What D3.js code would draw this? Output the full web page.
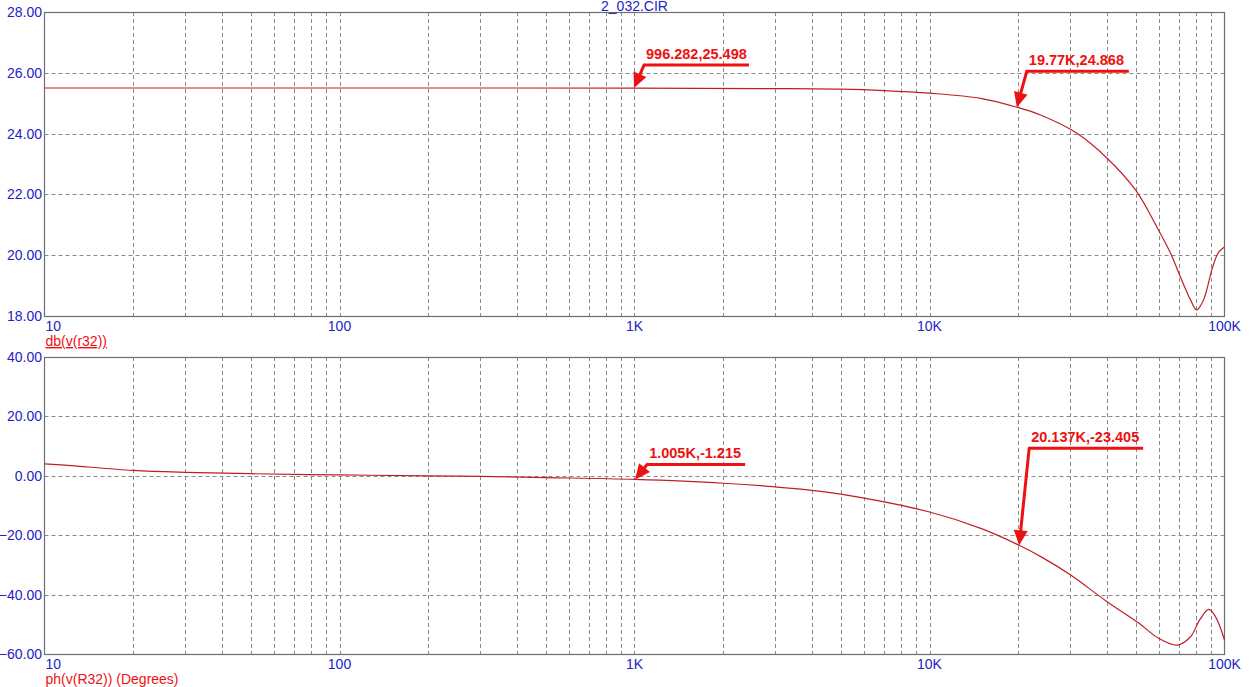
<!DOCTYPE html>
<html><head><meta charset="utf-8">
<script src="https://cdn.jsdelivr.net/npm/d3@7/dist/d3.min.js"></script>
<style>html,body{margin:0;padding:0;background:#fff;}svg{display:block;}</style>
</head><body>
<script>
// ---- data ----
const title = "2_032.CIR";
const freqs = [10,100,1000,3000,5000,7000,10000,14900,19770,23800,31700,40000,50000,58900,65600,70900,76700,80400,84900,91100,95500,100000];
const magDb = [25.5,25.5,25.498,25.48,25.46,25.415,25.33,25.16,24.868,24.61,24.0,23.19,22.14,20.94,20.07,19.28,18.53,18.2,18.53,19.6,20.1,20.27];
const phaseFreqs = [10,12,20,30,50,100,200,300,500,1005,2000,3660,5000,10000,15000,20137,24400,30100,40000,51200,60000,69200,76700,82300,88400,93300,100000];
const phaseDeg = [4.0,3.5,1.8,1.15,0.7,0.3,0.0,-0.2,-0.6,-1.215,-2.5,-4.5,-6.2,-12.2,-17.8,-23.405,-27.8,-33.4,-42.4,-49.6,-54.8,-57.0,-54.2,-48.6,-45.0,-47.5,-55.3];
const xTickValues = [10,100,1000,10000,100000];
const xTickLabels = ["10","100","1K","10K","100K"];
const magTicks = [18,20,22,24,26,28];
const phaseTicks = [-60,-40,-20,0,20,40];
const magLabel = "db(v(r32))";
const phaseLabel = "ph(v(R32)) (Degrees)";
const magMarkers = [{f:996.282, v:25.498, text:"996.282,25.498"},{f:19770, v:24.868, text:"19.77K,24.868"}];
const phaseMarkers = [{f:1005, v:-1.215, text:"1.005K,-1.215"},{f:20137, v:-23.405, text:"20.137K,-23.405"}];

// ---- layout / style ----
const W = 1251, H = 687;
const L = 44.5, R = 1224.5;
const blue = "#2323c8", red = "#ee1111", curveCol = "#c01e26", frameCol = "#6e6e6e", gridCol = "#8a8a8a";
const markerOffsets = [[{dx:10,dy:-23,len:105},{dx:10,dy:-36,len:102}],[{dx:12,dy:-15,len:98},{dx:10,dy:-97,len:114}]];

const svg = d3.select("body").append("svg").attr("width",W).attr("height",H);
const x = d3.scaleLog().domain([10,100000]).range([L,R]);

svg.append("text").attr("x",(L+R)/2).attr("y",11).attr("text-anchor","middle")
  .attr("font-family","Liberation Sans, Arial, sans-serif").attr("font-size",14).attr("fill",blue).text(title);

function panel(top, bottom, domain, ticks, fData, vData, label, markers, offs, underline){
  const y = d3.scaleLinear().domain(domain).range([bottom, top]);
  const g = svg.append("g");
  const minor = [];
  for(let d=10; d<100000; d*=10){ for(let k=1;k<=9;k++){ const v=d*k; if(v>10 && v<100000) minor.push(v);} }
  g.selectAll(".vg").data(minor).join("line")
    .attr("x1",d=>Math.round(x(d))+0.5).attr("x2",d=>Math.round(x(d))+0.5)
    .attr("y1",top).attr("y2",bottom)
    .attr("stroke",gridCol).attr("stroke-width",1).attr("stroke-dasharray","4,3");
  g.selectAll(".hg").data(ticks.filter(t=>t!==domain[0]&&t!==domain[1])).join("line")
    .attr("x1",L).attr("x2",R)
    .attr("y1",d=>Math.round(y(d))+0.5).attr("y2",d=>Math.round(y(d))+0.5)
    .attr("stroke",gridCol).attr("stroke-width",1).attr("stroke-dasharray","4,3");
  g.append("rect").attr("x",L).attr("y",top+0.5).attr("width",R-L).attr("height",bottom-top)
    .attr("fill","none").attr("stroke",frameCol).attr("stroke-width",1.2);
  g.selectAll(".yl").data(ticks).join("text")
    .attr("x",42).attr("y",d=>y(d)+5).attr("text-anchor","end")
    .attr("font-family","Liberation Sans, Arial, sans-serif").attr("font-size",14).attr("fill",blue)
    .text(d=>d3.format(".2f")(d));
  g.selectAll(".xl").data(xTickValues).join("text")
    .attr("x",(d,i)=> i===0 ? L+1 : x(d)).attr("y",bottom+15)
    .attr("text-anchor",(d,i)=> i===0 ? "start" : "middle")
    .attr("font-family","Liberation Sans, Arial, sans-serif").attr("font-size",14).attr("fill",blue)
    .text((d,i)=>xTickLabels[i]);
  g.append("text").attr("x",L+1).attr("y",bottom+30)
    .attr("font-family","Liberation Sans, Arial, sans-serif").attr("font-size",14).attr("fill",red)
    .attr("text-decoration", underline ? "underline" : null).text(label);
  const pts = fData.map((f,i)=>[f, vData[i]]);
  g.append("path").datum(pts)
    .attr("d", d3.line().x(d=>x(d[0])).y(d=>y(d[1])).curve(d3.curveCatmullRom.alpha(0.5)))
    .attr("fill","none").attr("stroke",curveCol).attr("stroke-width",1.2);
  markers.forEach((m,i)=>{
    const o = offs[i];
    const tx = x(m.f), ty = y(m.v);
    const sx = tx + o.dx, sy = ty + o.dy;
    g.append("line").attr("x1",sx).attr("y1",sy).attr("x2",sx+o.len).attr("y2",sy)
      .attr("stroke",red).attr("stroke-width",3);
    const ang = Math.atan2(ty-sy, tx-sx);
    const hl = 15, hw = 7;
    const bx = tx - hl*Math.cos(ang), by = ty - hl*Math.sin(ang);
    g.append("line").attr("x1",sx).attr("y1",sy).attr("x2",bx).attr("y2",by)
      .attr("stroke",red).attr("stroke-width",3).attr("stroke-linecap","round");
    const px = -Math.sin(ang), py = Math.cos(ang);
    g.append("polygon").attr("points",[[tx,ty],[bx+px*hw,by+py*hw],[bx-px*hw,by-py*hw]].map(p=>p.join(",")).join(" "))
      .attr("fill",red);
    g.append("text").attr("x",sx+2).attr("y",sy-6)
      .attr("font-family","Liberation Sans, Arial, sans-serif").attr("font-size",14.5).attr("font-weight","bold")
      .attr("fill",red).text(m.text);
  });
}

panel(12, 316, [18,28], magTicks, freqs, magDb, magLabel, magMarkers, markerOffsets[0], true);
panel(357, 654, [-60,40], phaseTicks, phaseFreqs, phaseDeg, phaseLabel, phaseMarkers, markerOffsets[1], false);
</script>
</body></html>
